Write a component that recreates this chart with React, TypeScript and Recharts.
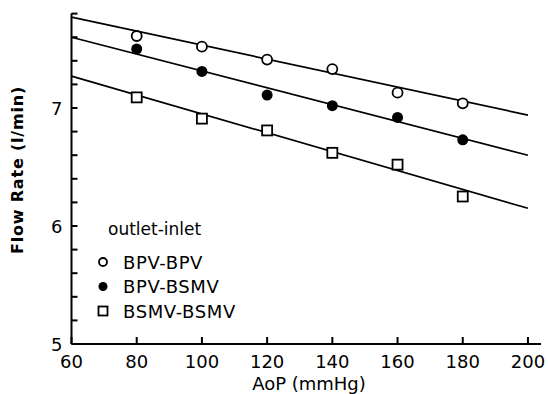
import React from 'react';
import { ComposedChart, Scatter, XAxis, YAxis } from 'recharts';

const xTicks = [60, 80, 100, 120, 140, 160, 180, 200];
const yTicks = [5, 5.2, 5.4, 5.6, 5.8, 6, 6.2, 6.4, 6.6, 6.8, 7, 7.2, 7.4, 7.6, 7.8];
const yLabels = [5, 6, 7];

const aop = [80, 100, 120, 140, 160, 180];
const bpvBpv = [7.61, 7.52, 7.41, 7.33, 7.13, 7.04];
const bpvBsmv = [7.5, 7.31, 7.11, 7.02, 6.92, 6.73];
const bsmvBsmv = [7.09, 6.91, 6.81, 6.62, 6.52, 6.25];

const fitX = [60, 200];
const fitBpvBpv = [7.77, 6.94];
const fitBpvBsmv = [7.6, 6.6];
const fitBsmvBsmv = [7.27, 6.15];

const seriesNames = ['BPV-BPV', 'BPV-BSMV', 'BSMV-BSMV'];
const legendTitle = 'outlet-inlet';
const xTitle = 'AoP (mmHg)';
const yTitle = 'Flow Rate (l/min)';

const toPoints = (xs: number[], ys: number[]) => xs.map((x, i) => ({ x, y: ys[i] }));

const FONT = '"DejaVu Sans", sans-serif';

const OpenCircle = (p: any) => (
  <circle cx={p.cx} cy={p.cy} r={5} fill="#fff" stroke="#000" strokeWidth={1.8} />
);
const FilledCircle = (p: any) => <circle cx={p.cx} cy={p.cy} r={5.5} fill="#000" />;
const Square = (p: any) => (
  <rect x={p.cx - 5} y={p.cy - 5} width={10} height={10} fill="#fff" stroke="#000" strokeWidth={1.8} />
);
const NoShape = () => <g />;

// label anchor x = axis - 9; inward tick drawn from the axis
const YTick = (p: any) => {
  const { x, y, payload } = p;
  const v = payload.value;
  const isLabel = yLabels.some((l) => Math.abs(l - v) < 1e-6);
  return (
    <g>
      <rect x={x + 9} y={y - 1} width={6} height={2} fill="#000" />
      {isLabel && (
        <text x={x} y={y + 6.5} textAnchor="end" fontFamily={FONT} fontSize={18} fill="#000">
          {v}
        </text>
      )}
    </g>
  );
};

// label anchor y = axis + 17; inward tick drawn upward from the axis
const XTick = (p: any) => {
  const { x, y, payload } = p;
  return (
    <g>
      <rect x={x - 1} y={y - 24} width={2} height={7} fill="#000" />
      <text x={x} y={y + 6.5} textAnchor="middle" fontFamily={FONT} fontSize={18} fill="#000">
        {payload.value}
      </text>
    </g>
  );
};

const markers = [
  (cx: number, cy: number) => <circle cx={cx} cy={cy} r={4} fill="#fff" stroke="#000" strokeWidth={1.8} />,
  (cx: number, cy: number) => <circle cx={cx} cy={cy} r={4.5} fill="#000" />,
  (cx: number, cy: number) => (
    <rect x={cx - 4.5} y={cy - 4.5} width={9} height={9} fill="#fff" stroke="#000" strokeWidth={1.8} />
  ),
];

export default function App() {
  return (
    <div style={{ position: 'absolute', left: 0, top: 0, width: 548, height: 394, background: '#fff' }}>
      <ComposedChart width={548} height={394} margin={{ top: 13.6, right: 7, bottom: 0, left: 0 }}>
        <XAxis
          type="number"
          dataKey="x"
          domain={[60, 204]}
          ticks={xTicks}
          interval={0}
          height={50}
          tickSize={-7}
          tickMargin={24}
          tickLine={false}
          tick={<XTick />}
          axisLine={{ stroke: '#000', strokeWidth: 2 }}
          allowDataOverflow
        />
        <YAxis
          type="number"
          dataKey="y"
          domain={[5, 7.8]}
          ticks={yTicks}
          interval={0}
          width={71.5}
          tickSize={-6}
          tickMargin={15}
          tickLine={false}
          tick={<YTick />}
          axisLine={{ stroke: '#000', strokeWidth: 2 }}
          allowDataOverflow
        />
        <Scatter data={toPoints(fitX, fitBpvBpv)} line={{ stroke: '#000', strokeWidth: 1.7 }} shape={NoShape} isAnimationActive={false} />
        <Scatter data={toPoints(fitX, fitBpvBsmv)} line={{ stroke: '#000', strokeWidth: 1.7 }} shape={NoShape} isAnimationActive={false} />
        <Scatter data={toPoints(fitX, fitBsmvBsmv)} line={{ stroke: '#000', strokeWidth: 1.7 }} shape={NoShape} isAnimationActive={false} />
        <Scatter name={seriesNames[0]} data={toPoints(aop, bpvBpv)} shape={OpenCircle} isAnimationActive={false} />
        <Scatter name={seriesNames[1]} data={toPoints(aop, bpvBsmv)} shape={FilledCircle} isAnimationActive={false} />
        <Scatter name={seriesNames[2]} data={toPoints(aop, bsmvBsmv)} shape={Square} isAnimationActive={false} />
      </ComposedChart>
      <svg
        width={548}
        height={394}
        style={{ position: 'absolute', left: 0, top: 0, pointerEvents: 'none' }}
      >
        <text x={309} y={390} textAnchor="middle" fontFamily={FONT} fontSize={18} fill="#000">
          {xTitle}
        </text>
        <text
          x={0}
          y={0}
          transform="translate(23,170) rotate(-90)"
          textAnchor="middle"
          fontFamily={FONT}
          fontSize={16}
          fontWeight="bold"
          letterSpacing={0.8}
          fill="#000"
        >
          {yTitle}
        </text>
        <text x={108} y={235} fontFamily={FONT} fontSize={17} fill="#000">
          {legendTitle}
        </text>
        {seriesNames.map((name, i) => (
          <g key={name}>
            {markers[i](103, 262 + i * 24.5)}
            <text x={123} y={268.5 + i * 24.5} fontFamily={FONT} fontSize={18} letterSpacing={0.6} fill="#000">
              {name}
            </text>
          </g>
        ))}
      </svg>
    </div>
  );
}
